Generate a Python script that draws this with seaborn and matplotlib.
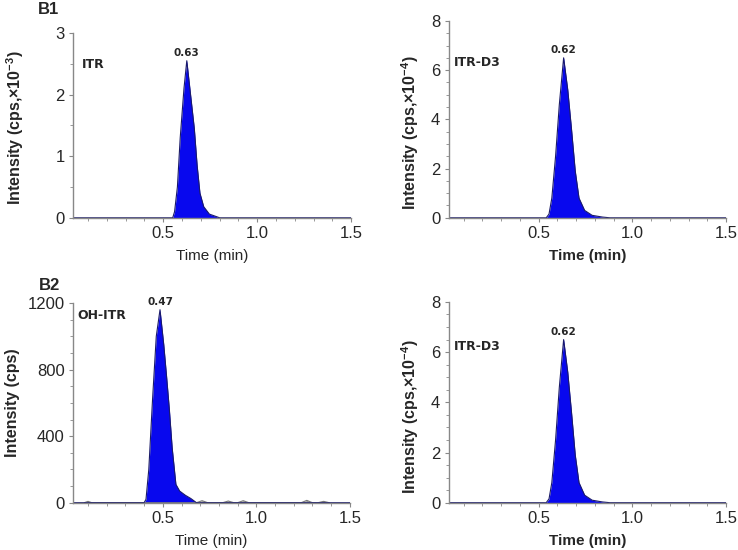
import numpy as np
import pandas as pd
import matplotlib
import matplotlib.pyplot as plt
from matplotlib.ticker import MultipleLocator
import seaborn as sns

sns.set_style('ticks')
plt.rcParams['font.family'] = ['Liberation Sans', 'DejaVu Sans']
plt.rcParams['mathtext.default'] = 'regular'

# ITR trace (cps x10^3)
itr_time = [0.0, 0.30, 0.55, 0.56, 0.575, 0.59, 0.61, 0.625, 0.645, 0.665, 0.68, 0.695, 0.715, 0.745, 0.80, 1.0, 1.5]
itr_int = [0.0, 0.0, 0.0, 0.1, 0.5, 1.3, 2.1, 2.55, 2.0, 1.45, 0.85, 0.4, 0.18, 0.06, 0.0, 0.0, 0.0]

# ITR-D3 trace (cps x10^4)
d3_time = [0.0, 0.30, 0.54, 0.555, 0.57, 0.59, 0.61, 0.633, 0.655, 0.675, 0.695, 0.715, 0.745, 0.785, 0.84, 0.88, 1.0, 1.5]
d3_int = [0.0, 0.0, 0.0, 0.15, 0.8, 2.5, 4.6, 6.5, 5.2, 3.6, 1.9, 0.8, 0.3, 0.1, 0.03, 0.0, 0.0, 0.0]

# OH-ITR trace (cps)
oh_time = [0.0, 0.40, 0.41, 0.425, 0.445, 0.465, 0.485, 0.505, 0.52, 0.535, 0.55, 0.57, 0.59, 0.62, 0.65, 0.68, 1.5]
oh_int = [0.0, 0.0, 20, 200, 620, 1000, 1160, 950, 760, 560, 330, 110, 70, 45, 25, 0.0, 0.0]

# OH-ITR baseline noise (cps)
noise_time = [0.08, 0.10, 0.12, 0.68, 0.71, 0.74, 0.82, 0.85, 0.88, 0.90, 0.93, 0.96, 1.24, 1.27, 1.30, 1.33, 1.36, 1.39]
noise_int = [0.0, 8, 0.0, 0.0, 12, 0.0, 0.0, 10, 0.0, 0.0, 12, 0.0, 0.0, 14, 0.0, 0.0, 8, 0.0]

rt_labels = ['0.63', '0.62', '0.47', '0.62']
compounds = ['ITR', 'ITR-D3', 'OH-ITR', 'ITR-D3']

fig = plt.figure(figsize=(7.38, 5.5), dpi=100)
axes = [fig.add_axes([0.099, 0.604, 0.377, 0.336]),
        fig.add_axes([0.608, 0.604, 0.376, 0.358]),
        fig.add_axes([0.099, 0.086, 0.375, 0.363]),
        fig.add_axes([0.608, 0.086, 0.376, 0.365])]

traces = [(itr_time, itr_int), (d3_time, d3_int), (oh_time, oh_int), (d3_time, d3_int)]
ylims = [(0, 3), (0, 8), (0, 1200), (0, 8)]
ymajor = [1, 2, 400, 2]
yminor = [0.5, 0.5, 100, 0.5]
ylabels = ['Intensity (cps,×10$^{-3}$)', 'Intensity (cps,×10$^{-4}$)',
           'Intensity (cps)', 'Intensity (cps,×10$^{-4}$)']
ylabel_xy = [(-0.17, 0.49), (-0.10, 0.43), (-0.19, 0.5), (-0.10, 0.43)]
label_xy = [(0.03, 0.83), (0.02, 0.79), (0.015, 0.94), (0.02, 0.78)]
xl_weight = ['normal', 'bold', 'normal', 'bold']

for i, ax in enumerate(axes):
    t, y = traces[i]
    df = pd.DataFrame({'time': t, 'intensity': y})
    ax.fill_between(df['time'], 0, df['intensity'], color='#0808ee', lw=0)
    if i == 2:
        nf = pd.DataFrame({'time': noise_time, 'intensity': noise_int})
        ax.fill_between(nf['time'], 0, nf['intensity'], color='#999999', lw=0)
        sns.lineplot(data=nf, x='time', y='intensity', ax=ax, color='#777777', lw=0.8)
    sns.lineplot(data=df, x='time', y='intensity', ax=ax, color='#1a1a6a', lw=0.8)
    ax.set_xlim(0.02, 1.5)
    ax.set_ylim(*ylims[i])
    ax.set_xticks([0.5, 1.0, 1.5])
    ax.set_xticklabels(['0.5', '1.0', '1.5'])
    ax.xaxis.set_minor_locator(MultipleLocator(0.1))
    ax.yaxis.set_major_locator(MultipleLocator(ymajor[i]))
    ax.yaxis.set_minor_locator(MultipleLocator(yminor[i]))
    ax.tick_params(which='major', length=3, width=0.8, color='#888888', labelsize=12, pad=3)
    ax.tick_params(which='minor', length=2, width=0.6, color='#888888')
    for s in ['top', 'right']:
        ax.spines[s].set_visible(False)
    for s in ['left', 'bottom']:
        ax.spines[s].set_color('#888888')
        ax.spines[s].set_linewidth(1.0)
    ax.set_xlabel('Time (min)', fontsize=11, weight=xl_weight[i], labelpad=6)
    ax.set_ylabel(ylabels[i], fontsize=11.5, weight='bold')
    ax.yaxis.set_label_coords(*ylabel_xy[i])
    k = int(np.argmax(y))
    ax.text(t[k], y[k] + ylims[i][1] * 0.015, rt_labels[i], ha='center', va='bottom',
            fontsize=7.5, weight='bold', family='DejaVu Sans')
    ax.text(label_xy[i][0], label_xy[i][1], compounds[i], transform=ax.transAxes, fontsize=9,
            weight='bold', va='center', family=['Liberation Sans Narrow', 'DejaVu Sans'])

fig.text(48 / 738, 1 - 10 / 550, 'B1', fontsize=12, weight='bold', ha='center', va='center')
fig.text(49 / 738, 1 - 285 / 550, 'B2', fontsize=12, weight='bold', ha='center', va='center')

fig.savefig('out.png', dpi=100)
